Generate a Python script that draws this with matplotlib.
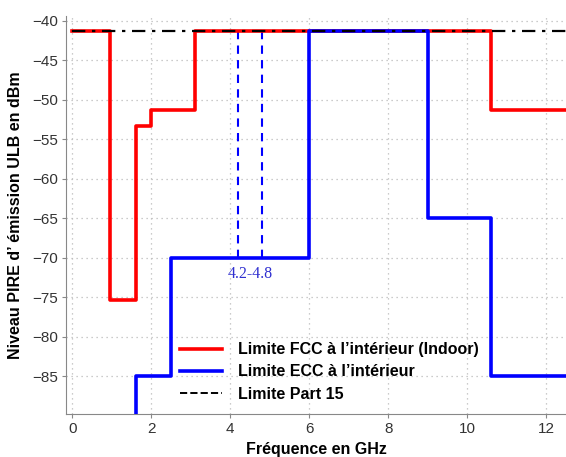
import matplotlib.pyplot as plt
from matplotlib.lines import Line2D

plt.rcParams['font.family'] = ['Liberation Sans', 'DejaVu Sans']

# FCC indoor mask (step edges in GHz, levels in dBm)
fcc_f = [0.0, 0.96, 1.61, 1.99, 3.1, 10.6, 12.6]
fcc_db = [-41.3, -75.3, -53.3, -51.3, -41.3, -51.3]

# ECC indoor mask
ecc_f = [1.6, 2.5, 6.0, 9.0, 10.6, 12.6]
ecc_db = [-85.0, -70.0, -41.3, -65.0, -85.0]
ecc_floor = -95.0

part15_db = -41.3
band_lo, band_hi = 4.2, 4.8
band_label = "4.2-4.8"

fig = plt.figure(figsize=(5.66, 4.57), dpi=100)
ax = fig.add_axes([0.1166, 0.094, 0.8834, 0.871])

# step lines
fx = [fcc_f[0]]
fy = [fcc_db[0]]
for i, v in enumerate(fcc_db):
    if i > 0:
        fx.append(fcc_f[i]); fy.append(v)
    fx.append(fcc_f[i + 1]); fy.append(v)

ex = [ecc_f[0]]
ey = [ecc_floor]
for i, v in enumerate(ecc_db):
    ex.append(ecc_f[i]); ey.append(v)
    ex.append(ecc_f[i + 1]); ey.append(v)

ax.plot([0, 12.6], [part15_db, part15_db], color='black', linestyle=(0, (6, 3, 1.5, 3)),
        linewidth=1.6, zorder=4)
ax.plot(fx, fy, color='#ff0000', linewidth=2.6, zorder=3)
ax.plot(ex, ey, color='#0000ff', linewidth=2.6, zorder=3)

for b in (band_lo, band_hi):
    ax.plot([b, b], [-70, part15_db], color='#0000ff', linestyle=(0, (4, 3)), linewidth=1.5, zorder=2)
ax.text((band_lo + band_hi) / 2, -71.0, band_label, color='#2f2fd0', family='Liberation Serif',
        fontsize=11.5, ha='center', va='top')

ax.set_xlim(-0.16, 12.5)
ax.set_ylim(-89.8, -39.4)
ax.set_xticks(range(0, 13, 2))
ax.set_yticks(range(-85, -39, 5))
ax.set_yticklabels([f"\u2212{abs(v)}" for v in range(-85, -39, 5)])
ax.grid(True, linestyle=(0, (1, 3)), color='#bbbbbb', linewidth=0.9)
for s in ('top', 'right'):
    ax.spines[s].set_visible(False)
for s in ('left', 'bottom'):
    ax.spines[s].set_color('#888888')
ax.tick_params(colors='#333333', labelsize=11, length=3, color='#888888', pad=3)

ax.set_xlabel("Fréquence en GHz", fontweight='bold', fontsize=11.5, labelpad=4)
ax.set_ylabel("Niveau PIRE d\u2019 émission ULB en dBm", fontweight='bold', fontsize=11.5, labelpad=6)

handles = [Line2D([], [], color='#ff0000', linewidth=2.6),
           Line2D([], [], color='#0000ff', linewidth=2.6),
           Line2D([], [], color='black', linestyle='--', linewidth=1.4)]
labels = ["Limite FCC à l\u2019intérieur (Indoor)", "Limite ECC à l\u2019intérieur", "Limite Part 15"]
ax.legend(handles, labels, loc='lower left', bbox_to_anchor=(0.2, -0.005), frameon=False,
          prop={'weight': 'bold', 'size': 11.5}, handlelength=2.6, handletextpad=1.0,
          labelspacing=0.45)

fig.savefig('out.png', dpi=100)
